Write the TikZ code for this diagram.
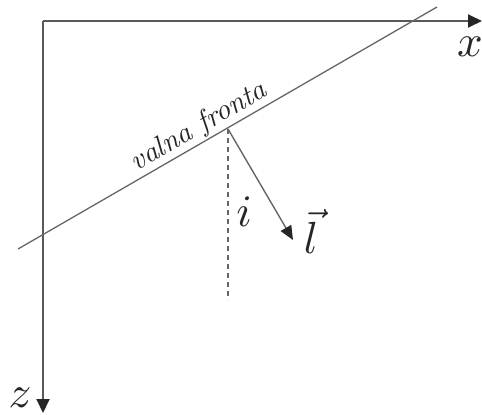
\documentclass[tikz,border=0pt]{standalone}
\usetikzlibrary{arrows.meta}
\newcommand{\bigmath}[1]{\scalebox{4.5}{$#1$}}
\begin{document}
\begin{tikzpicture}[x=1pt,y=-1pt,
  axis/.style={draw=black!65,line width=1.9pt,-{Triangle[length=14pt,width=13pt,fill=black!85,color=black!85]}},
  front/.style={draw=black!60,line width=1.3pt},
  vec/.style={draw=black!60,line width=1.4pt,-{Triangle[length=14pt,width=12pt,fill=black!85,color=black!85]}},
  dashline/.style={draw=black!60,line width=1.4pt,dash pattern=on 5pt off 4pt},
  lab/.style={text=black!85,inner sep=0pt}]
\useasboundingbox (0,0) rectangle (482,415);
\coordinate (O) at (43,21);
\coordinate (X) at (482,21);
\coordinate (Z) at (43,413);
\coordinate (A) at (18,249);
\coordinate (B) at (437,7);
\coordinate (P) at (228,129);
\coordinate (D) at (228,300);
\coordinate (L) at (293,240);
\draw[axis] (O) -- (X);
\draw[axis] (O) -- (Z);
\path[front] (A) -- node[pos=0.45,sloped,above,inner sep=1.5pt,text=black!85] (vf) {\scalebox{2.9}{\itshape valna fronta}} (B);
\draw[dashline] (P) -- (D);
\draw[vec] (P) -- (L);
\node[lab] (xl) at (470,47) {\bigmath{x}};
\node[lab] (zl) at (20,398) {\bigmath{z}};
\node[lab] (il) at (244,212) {\bigmath{i}};
\node[lab] (ll) at (311,231) {\bigmath{\vec{l}}};
\end{tikzpicture}
\end{document}
